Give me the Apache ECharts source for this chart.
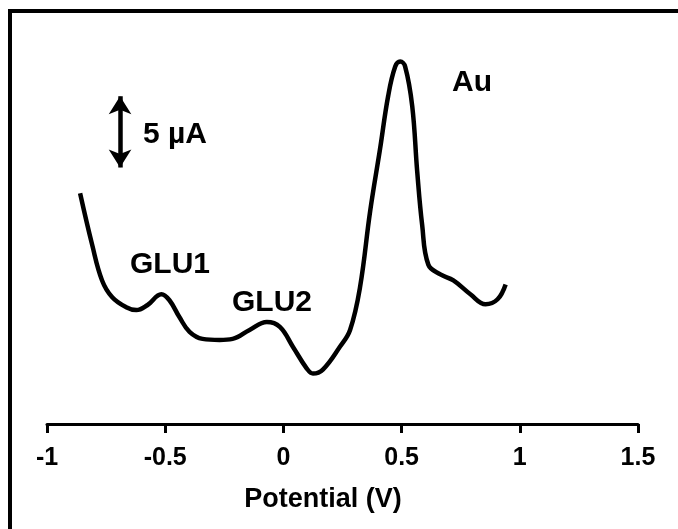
<!DOCTYPE html>
<html>
<head>
<meta charset="utf-8">
<script src="https://cdn.jsdelivr.net/npm/echarts@6/dist/echarts.min.js"></script>
<style>
  html, body { margin: 0; padding: 0; background: #fff; }
  #chart { width: 678px; height: 529px; }
</style>
</head>
<body>
<div id="chart"></div>
<script>
// Differential pulse voltammogram: potential (V) vs current (µA, arbitrary offset)
const potential = [
  -0.860, -0.809, -0.767, -0.724, -0.665, -0.622, -0.576, -0.516, -0.482, -0.440,
  -0.397, -0.342, -0.270, -0.215, -0.143, -0.070, -0.015, 0.040, 0.099, 0.125,
  0.167, 0.239, 0.282, 0.324, 0.367, 0.409, 0.443, 0.473, 0.494, 0.515,
  0.545, 0.566, 0.587, 0.613, 0.664, 0.719, 0.791, 0.855, 0.906, 0.940
];
const current = [
  16.18, 12.57, 10.07, 8.89, 8.19, 7.99, 8.33, 9.10, 8.68, 7.50,
  6.46, 5.97, 5.90, 5.97, 6.60, 7.15, 6.81, 5.42, 3.89, 3.54,
  3.82, 5.42, 6.60, 9.58, 14.93, 19.31, 22.99, 25.07, 25.42, 25.07,
  22.29, 17.71, 13.96, 11.18, 10.49, 10.07, 9.10, 8.40, 8.75, 9.79
];
const xTicks = [-1, -0.5, 0, 0.5, 1, 1.5];
// Scale bar: 5 µA
const scaleBarX = -0.691;
const scaleBarTop = 22.99;
const scaleBarSpan = 5;
const peakLabels = ['GLU1', 'GLU2', 'Au'];
const xTitle = 'Potential (V)';

const FONT = '"Liberation Sans", Arial, sans-serif';
const chart = echarts.init(document.getElementById('chart'));

chart.setOption({
  animation: false,
  backgroundColor: '#fff',
  grid: { left: 47, right: 40, top: 24.8, bottom: 103 },
  xAxis: {
    type: 'value',
    min: xTicks[0],
    max: xTicks[xTicks.length - 1],
    interval: 0.5,
    axisLine: { lineStyle: { color: '#000', width: 3 } },
    axisTick: { length: 9, lineStyle: { color: '#000', width: 3 } },
    axisLabel: {
      margin: 20, fontFamily: FONT, fontWeight: 'bold', fontSize: 25, color: '#000',
      formatter: v => String(v)
    },
    splitLine: { show: false }
  },
  yAxis: {
    type: 'value', min: -0.14, max: 28, show: false,
    splitLine: { show: false }
  },
  series: [
    {
      type: 'line',
      data: potential.map((p, i) => [p, current[i]]),
      smooth: 0.4,
      showSymbol: false,
      lineStyle: { color: '#000', width: 4.5 },
      z: 3
    },
    {
      type: 'line',
      data: [[scaleBarX, scaleBarTop], [scaleBarX, scaleBarTop - scaleBarSpan]],
      showSymbol: false,
      lineStyle: { width: 0 },
      markLine: {
        silent: true,
        symbol: ['arrow', 'arrow'],
        symbolSize: [17, 18],
        label: { show: false },
        lineStyle: { color: '#000', width: 4.5, type: 'solid' },
        data: [[
          { coord: [scaleBarX, scaleBarTop] },
          { coord: [scaleBarX, scaleBarTop - scaleBarSpan] }
        ]]
      }
    }
  ],
  graphic: [
    {
      type: 'rect', silent: true,
      shape: { x: 10, y: 11, width: 700, height: 560 },
      style: { fill: 'none', stroke: '#000', lineWidth: 4 }
    },
    { type: 'text', x: 143, y: 135, style: { text: '5 µA', fontFamily: FONT, fontWeight: 'bold', fontSize: 30, fill: '#000', verticalAlign: 'middle', align: 'left' } },
    { type: 'text', x: 170, y: 265, style: { text: peakLabels[0], fontFamily: FONT, fontWeight: 'bold', fontSize: 30, fill: '#000', verticalAlign: 'middle', align: 'center' } },
    { type: 'text', x: 272, y: 303, style: { text: peakLabels[1], fontFamily: FONT, fontWeight: 'bold', fontSize: 30, fill: '#000', verticalAlign: 'middle', align: 'center' } },
    { type: 'text', x: 472, y: 83, style: { text: peakLabels[2], fontFamily: FONT, fontWeight: 'bold', fontSize: 30, fill: '#000', verticalAlign: 'middle', align: 'center' } },
    { type: 'text', x: 323, y: 500, style: { text: xTitle, fontFamily: FONT, fontWeight: 'bold', fontSize: 27, fill: '#000', verticalAlign: 'middle', align: 'center' } }
  ]
});
</script>
</body>
</html>
